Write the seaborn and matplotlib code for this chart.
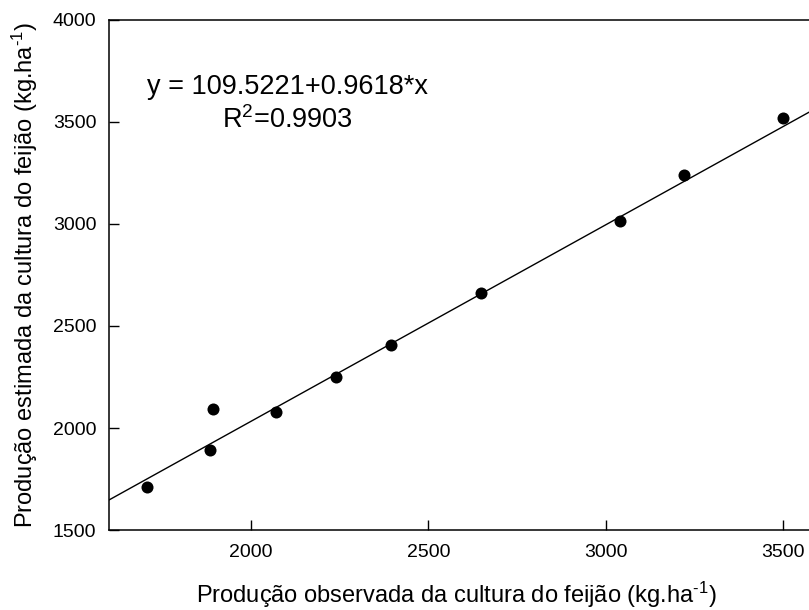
import numpy as np
import pandas as pd
import seaborn as sns
import matplotlib.pyplot as plt

observada = [1706, 1884, 1893, 2070, 2240, 2394, 2650, 3040, 3222, 3501]
estimada = [1714, 1894, 2096, 2080, 2250, 2405, 2662, 3013, 3237, 3518]

# fitted line coefficients
intercepto = 109.5221
inclinacao = 0.9618
r2 = 0.9903

sns.set_style("ticks")
plt.rcParams['font.family'] = ['Liberation Sans', 'DejaVu Sans']
plt.rcParams['mathtext.fontset'] = 'custom'
plt.rcParams['mathtext.rm'] = 'Liberation Sans'
plt.rcParams['mathtext.it'] = 'Liberation Sans'
plt.rcParams['text.color'] = 'black'
plt.rcParams['axes.labelcolor'] = 'black'
plt.rcParams['xtick.color'] = 'black'
plt.rcParams['ytick.color'] = 'black'

data = pd.DataFrame({"obs": observada, "est": estimada})
xr = np.array([1600, 3600])
linha = pd.DataFrame({"x": xr, "y": intercepto + inclinacao * xr})

fig = plt.figure(figsize=(8.09, 6.10), dpi=100)
ax = fig.add_axes([109 / 809, 1 - 530.3 / 610, (818.5 - 109) / 809, (530.3 - 19.5) / 610])

sns.lineplot(data=linha, x="x", y="y", color="black", linewidth=1.0, ax=ax)
sns.scatterplot(data=data, x="obs", y="est", color="black", s=75, edgecolor="black",
                linewidth=0, ax=ax, zorder=3)

ax.set_xlim(1600, 3600)
ax.set_ylim(1500, 4000)
ax.set_xticks([2000, 2500, 3000, 3500])
ax.set_yticks([1500, 2000, 2500, 3000, 3500, 4000])
ax.tick_params(direction="in", length=7, width=1, labelsize=14, color="black",
               labelcolor="black")
ax.tick_params(axis="x", pad=10)
ax.tick_params(axis="y", pad=9)
for sp in ax.spines.values():
    sp.set_linewidth(1.1)
    sp.set_color("black")

sup = "$^{\u2010 1}$"
ax.set_xlabel("Produção observada da cultura do feijão (kg.ha" + sup + ")", fontsize=17)
ax.set_ylabel("Produção estimada da cultura do feijão (kg.ha" + sup + ")", fontsize=17)
ax.xaxis.set_label_coords((456 - 109) / (818.5 - 109), -0.096)
ax.yaxis.set_label_coords(-0.097, 0.5)

ax.text(2102, 3668, f"y = {intercepto}+{inclinacao}*x", fontsize=19.5,
        ha="center", va="center")
ax.text(2102, 3507, f"R$^{{2}}$={r2}", fontsize=19.5, ha="center", va="center")

fig.savefig("out.png", dpi=100)
